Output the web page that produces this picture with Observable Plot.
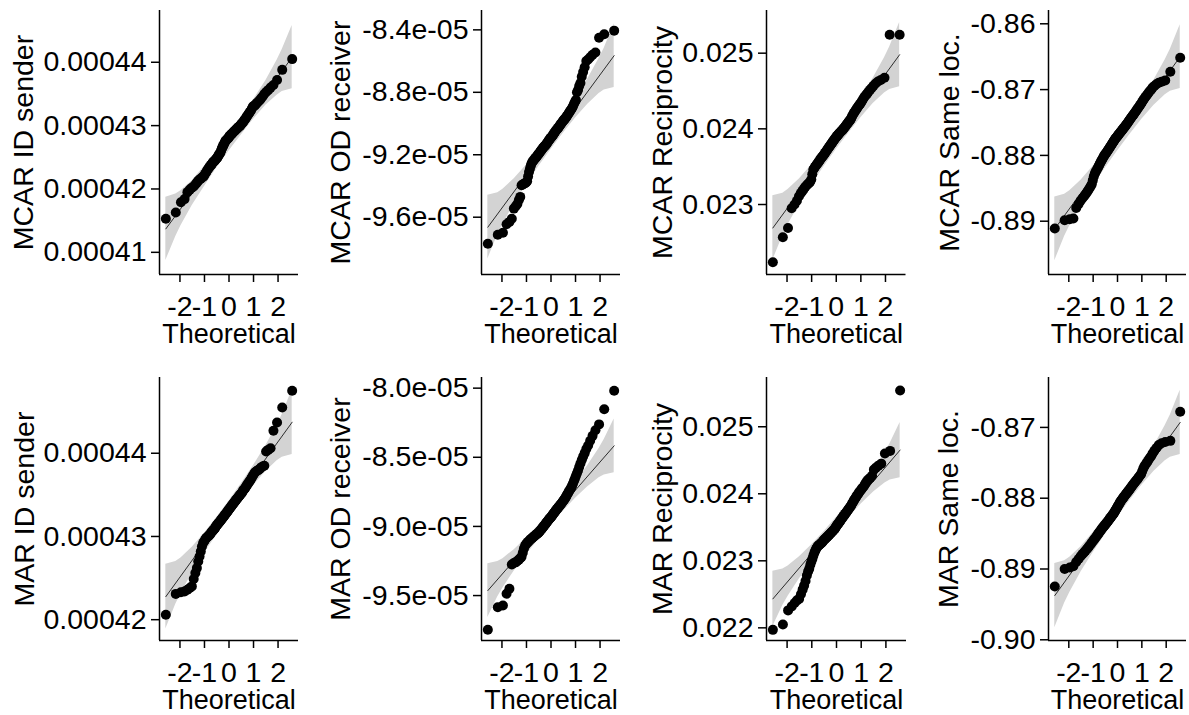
<!DOCTYPE html>
<html>
<head>
<meta charset="utf-8">
<script src="https://cdn.jsdelivr.net/npm/d3@7"></script>
<script src="https://cdn.jsdelivr.net/npm/@observablehq/plot@0.6"></script>
<style>
html,body{margin:0;padding:0;background:#fff;}
#chart{position:relative;width:1189px;height:715px;overflow:hidden;background:#fff;}
#chart svg{position:absolute;overflow:visible;}
</style>
</head>
<body>
<div id="chart"></div>
<script>
// Theoretical normal quantiles (n = 100)
const theoretical = [-2.5758,-2.1701,-1.9600,-1.8119,-1.6954,-1.5982,-1.5141,-1.4395,-1.3722,-1.3106,-1.2536,-1.2004,-1.1503,-1.1031,-1.0581,-1.0152,-0.9741,-0.9346,-0.8965,-0.8596,-0.8239,-0.7892,-0.7554,-0.7225,-0.6903,-0.6588,-0.6280,-0.5978,-0.5681,-0.5388,-0.5101,-0.4817,-0.4538,-0.4261,-0.3989,-0.3719,-0.3451,-0.3186,-0.2924,-0.2663,-0.2404,-0.2147,-0.1891,-0.1637,-0.1383,-0.1130,-0.0878,-0.0627,-0.0376,-0.0125,0.0125,0.0376,0.0627,0.0878,0.1130,0.1383,0.1637,0.1891,0.2147,0.2404,0.2663,0.2924,0.3186,0.3451,0.3719,0.3989,0.4261,0.4538,0.4817,0.5101,0.5388,0.5681,0.5978,0.6280,0.6588,0.6903,0.7225,0.7554,0.7892,0.8239,0.8596,0.8965,0.9346,0.9741,1.0152,1.0581,1.1031,1.1503,1.2004,1.2536,1.3106,1.3722,1.4395,1.5141,1.5982,1.6954,1.8119,1.9600,2.1701,2.5758];
const bandZ = [-2.5758,-2.1701,-1.96,-1.5,-1,-0.5,0,0.5,1,1.5,1.96,2.1701,2.5758];
const xTicks = [-2,-1,0,1,2];
const xTickLabels = ["-2","-1","0","1","2"];

// ---- MCAR ID sender ----
const mcarIdSender = [4.153e-4,4.163e-4,4.179e-4,4.184e-4,4.195e-4,4.199e-4,4.202e-4,4.204e-4,4.207e-4,4.210e-4,4.213e-4,4.215e-4,4.216e-4,4.218e-4,4.219e-4,4.221e-4,4.224e-4,4.226e-4,4.229e-4,4.231e-4,4.233e-4,4.235e-4,4.237e-4,4.238e-4,4.240e-4,4.242e-4,4.243e-4,4.244e-4,4.245e-4,4.247e-4,4.248e-4,4.249e-4,4.251e-4,4.253e-4,4.255e-4,4.256e-4,4.258e-4,4.261e-4,4.264e-4,4.266e-4,4.268e-4,4.270e-4,4.272e-4,4.274e-4,4.276e-4,4.277e-4,4.278e-4,4.279e-4,4.280e-4,4.281e-4,4.283e-4,4.284e-4,4.285e-4,4.286e-4,4.287e-4,4.288e-4,4.289e-4,4.290e-4,4.291e-4,4.292e-4,4.293e-4,4.294e-4,4.295e-4,4.296e-4,4.297e-4,4.298e-4,4.299e-4,4.300e-4,4.301e-4,4.303e-4,4.304e-4,4.305e-4,4.307e-4,4.309e-4,4.310e-4,4.312e-4,4.314e-4,4.316e-4,4.318e-4,4.320e-4,4.322e-4,4.324e-4,4.327e-4,4.330e-4,4.331e-4,4.332e-4,4.334e-4,4.336e-4,4.338e-4,4.340e-4,4.343e-4,4.346e-4,4.350e-4,4.353e-4,4.356e-4,4.360e-4,4.364e-4,4.372e-4,4.388e-4,4.405e-4];
const mcarIdSenderLine = [4.137e-4,4.408e-4];
const mcarIdSenderLo = [4.087e-4,4.125e-4,4.142e-4,4.174e-4,4.204e-4,4.233e-4,4.260e-4,4.285e-4,4.310e-4,4.332e-4,4.348e-4,4.354e-4,4.358e-4];
const mcarIdSenderHi = [4.187e-4,4.192e-4,4.197e-4,4.213e-4,4.236e-4,4.260e-4,4.285e-4,4.312e-4,4.341e-4,4.371e-4,4.403e-4,4.420e-4,4.458e-4];
const mcarIdSenderTicks = [0.00041,0.00042,0.00043,0.00044];
const mcarIdSenderTickLabels = ["0.00041","0.00042","0.00043","0.00044"];

// ---- MCAR OD receiver ----
const mcarOdReceiver = [-9.770e-5,-9.712e-5,-9.700e-5,-9.645e-5,-9.630e-5,-9.610e-5,-9.545e-5,-9.530e-5,-9.515e-5,-9.490e-5,-9.470e-5,-9.395e-5,-9.390e-5,-9.386e-5,-9.382e-5,-9.378e-5,-9.370e-5,-9.340e-5,-9.310e-5,-9.290e-5,-9.270e-5,-9.255e-5,-9.245e-5,-9.238e-5,-9.232e-5,-9.226e-5,-9.220e-5,-9.214e-5,-9.208e-5,-9.202e-5,-9.196e-5,-9.190e-5,-9.184e-5,-9.178e-5,-9.172e-5,-9.166e-5,-9.160e-5,-9.155e-5,-9.150e-5,-9.146e-5,-9.142e-5,-9.138e-5,-9.132e-5,-9.126e-5,-9.120e-5,-9.114e-5,-9.108e-5,-9.102e-5,-9.097e-5,-9.092e-5,-9.088e-5,-9.083e-5,-9.078e-5,-9.072e-5,-9.066e-5,-9.060e-5,-9.054e-5,-9.048e-5,-9.042e-5,-9.038e-5,-9.034e-5,-9.028e-5,-9.022e-5,-9.016e-5,-9.010e-5,-9.004e-5,-8.998e-5,-8.992e-5,-8.986e-5,-8.980e-5,-8.975e-5,-8.970e-5,-8.964e-5,-8.957e-5,-8.950e-5,-8.942e-5,-8.934e-5,-8.926e-5,-8.918e-5,-8.910e-5,-8.900e-5,-8.890e-5,-8.875e-5,-8.862e-5,-8.850e-5,-8.800e-5,-8.785e-5,-8.760e-5,-8.740e-5,-8.700e-5,-8.670e-5,-8.640e-5,-8.600e-5,-8.590e-5,-8.575e-5,-8.560e-5,-8.545e-5,-8.450e-5,-8.428e-5,-8.405e-5];
const mcarOdReceiverLine = [-9.664e-5,-8.565e-5];
const mcarOdReceiverLo = [-9.868e-5,-9.711e-5,-9.645e-5,-9.515e-5,-9.391e-5,-9.276e-5,-9.167e-5,-9.063e-5,-8.964e-5,-8.876e-5,-8.808e-5,-8.786e-5,-8.769e-5];
const mcarOdReceiverHi = [-9.460e-5,-9.443e-5,-9.421e-5,-9.353e-5,-9.265e-5,-9.166e-5,-9.062e-5,-8.953e-5,-8.838e-5,-8.714e-5,-8.584e-5,-8.518e-5,-8.361e-5];
const mcarOdReceiverTicks = [-9.6e-5,-9.2e-5,-8.8e-5,-8.4e-5];
const mcarOdReceiverTickLabels = ["-9.6e-05","-9.2e-05","-8.8e-05","-8.4e-05"];

// ---- MCAR Reciprocity ----
const mcarReciprocity = [0.022237,0.022568,0.022690,0.022950,0.023000,0.023050,0.023110,0.023150,0.023180,0.023210,0.023235,0.023255,0.023270,0.023285,0.023300,0.023330,0.023400,0.023460,0.023480,0.023500,0.023515,0.023530,0.023545,0.023560,0.023575,0.023590,0.023605,0.023620,0.023630,0.023642,0.023655,0.023668,0.023682,0.023695,0.023708,0.023720,0.023733,0.023746,0.023758,0.023770,0.023782,0.023795,0.023806,0.023818,0.023830,0.023842,0.023853,0.023865,0.023876,0.023887,0.023897,0.023907,0.023917,0.023927,0.023937,0.023946,0.023955,0.023964,0.023972,0.023980,0.023990,0.024000,0.024010,0.024022,0.024034,0.024046,0.024058,0.024070,0.024082,0.024094,0.024105,0.024118,0.024135,0.024155,0.024175,0.024195,0.024212,0.024228,0.024245,0.024262,0.024280,0.024298,0.024315,0.024330,0.024350,0.024375,0.024400,0.024425,0.024445,0.024465,0.024490,0.024515,0.024540,0.024570,0.024600,0.024625,0.024645,0.024675,0.025243,0.025243];
const mcarReciprocityLine = [0.02269,0.02498];
const mcarReciprocityLo = [0.022265,0.022590,0.022731,0.023000,0.023259,0.023499,0.023726,0.023943,0.024148,0.024334,0.024473,0.024520,0.024555];
const mcarReciprocityHi = [0.023115,0.023150,0.023197,0.023336,0.023523,0.023727,0.023944,0.024171,0.024412,0.024670,0.024939,0.025080,0.025405];
const mcarReciprocityTicks = [0.023,0.024,0.025];
const mcarReciprocityTickLabels = ["0.023","0.024","0.025"];

// ---- MCAR Same loc. ----
const mcarSameLoc = [-0.89110,-0.88985,-0.88970,-0.88960,-0.88800,-0.88740,-0.88690,-0.88650,-0.88620,-0.88590,-0.88560,-0.88530,-0.88500,-0.88470,-0.88440,-0.88380,-0.88320,-0.88280,-0.88250,-0.88225,-0.88200,-0.88175,-0.88150,-0.88125,-0.88100,-0.88080,-0.88060,-0.88040,-0.88020,-0.88000,-0.87985,-0.87970,-0.87955,-0.87940,-0.87925,-0.87910,-0.87895,-0.87880,-0.87865,-0.87850,-0.87835,-0.87820,-0.87805,-0.87790,-0.87775,-0.87760,-0.87748,-0.87736,-0.87725,-0.87712,-0.87700,-0.87688,-0.87676,-0.87664,-0.87652,-0.87640,-0.87628,-0.87616,-0.87604,-0.87592,-0.87580,-0.87568,-0.87555,-0.87542,-0.87528,-0.87515,-0.87500,-0.87485,-0.87470,-0.87455,-0.87440,-0.87425,-0.87410,-0.87395,-0.87380,-0.87362,-0.87345,-0.87328,-0.87310,-0.87292,-0.87272,-0.87252,-0.87232,-0.87210,-0.87185,-0.87160,-0.87135,-0.87110,-0.87085,-0.87058,-0.87030,-0.87005,-0.86970,-0.86945,-0.86920,-0.86895,-0.86880,-0.86860,-0.86730,-0.86515];
const mcarSameLocLine = [-0.89116,-0.86500];
const mcarSameLocLo = [-0.89601,-0.89229,-0.89069,-0.88762,-0.88466,-0.88193,-0.87933,-0.87685,-0.87450,-0.87238,-0.87079,-0.87025,-0.86985];
const mcarSameLocHi = [-0.88631,-0.88591,-0.88537,-0.88378,-0.88166,-0.87931,-0.87683,-0.87423,-0.87150,-0.86854,-0.86547,-0.86387,-0.86015];
const mcarSameLocTicks = [-0.89,-0.88,-0.87,-0.86];
const mcarSameLocTickLabels = ["-0.89","-0.88","-0.87","-0.86"];

// ---- MAR ID sender ----
const marIdSender = [4.206e-4,4.231e-4,4.233e-4,4.234e-4,4.236e-4,4.238e-4,4.240e-4,4.249e-4,4.256e-4,4.262e-4,4.270e-4,4.276e-4,4.282e-4,4.288e-4,4.292e-4,4.294e-4,4.296e-4,4.298e-4,4.299e-4,4.300e-4,4.301e-4,4.302e-4,4.303e-4,4.305e-4,4.306e-4,4.307e-4,4.308e-4,4.309e-4,4.310e-4,4.312e-4,4.313e-4,4.314e-4,4.315e-4,4.316e-4,4.317e-4,4.318e-4,4.319e-4,4.320e-4,4.321e-4,4.322e-4,4.323e-4,4.324e-4,4.325e-4,4.326e-4,4.327e-4,4.328e-4,4.329e-4,4.330e-4,4.331e-4,4.332e-4,4.333e-4,4.334e-4,4.335e-4,4.336e-4,4.337e-4,4.338e-4,4.339e-4,4.340e-4,4.341e-4,4.342e-4,4.343e-4,4.344e-4,4.345e-4,4.346e-4,4.347e-4,4.348e-4,4.349e-4,4.350e-4,4.351e-4,4.352e-4,4.353e-4,4.355e-4,4.356e-4,4.357e-4,4.358e-4,4.360e-4,4.361e-4,4.363e-4,4.364e-4,4.366e-4,4.367e-4,4.369e-4,4.371e-4,4.373e-4,4.375e-4,4.377e-4,4.378e-4,4.379e-4,4.380e-4,4.381e-4,4.383e-4,4.384e-4,4.385e-4,4.402e-4,4.404e-4,4.406e-4,4.427e-4,4.437e-4,4.455e-4,4.475e-4];
const marIdSenderLine = [4.2277e-4,4.4373e-4];
const marIdSenderLo = [4.1888e-4,4.2186e-4,4.2315e-4,4.2561e-4,4.2798e-4,4.3017e-4,4.3225e-4,4.3423e-4,4.3612e-4,4.3781e-4,4.3909e-4,4.3952e-4,4.3984e-4];
const marIdSenderHi = [4.2666e-4,4.2698e-4,4.2741e-4,4.2869e-4,4.3038e-4,4.3227e-4,4.3425e-4,4.3633e-4,4.3852e-4,4.4089e-4,4.4335e-4,4.4464e-4,4.4762e-4];
const marIdSenderTicks = [0.00042,0.00043,0.00044];
const marIdSenderTickLabels = ["0.00042","0.00043","0.00044"];

// ---- MAR OD receiver ----
const marOdReceiver = [-9.747e-5,-9.584e-5,-9.572e-5,-9.487e-5,-9.451e-5,-9.275e-5,-9.265e-5,-9.260e-5,-9.250e-5,-9.240e-5,-9.230e-5,-9.220e-5,-9.190e-5,-9.160e-5,-9.140e-5,-9.128e-5,-9.120e-5,-9.112e-5,-9.105e-5,-9.098e-5,-9.092e-5,-9.087e-5,-9.082e-5,-9.077e-5,-9.072e-5,-9.067e-5,-9.062e-5,-9.058e-5,-9.054e-5,-9.050e-5,-9.045e-5,-9.040e-5,-9.034e-5,-9.028e-5,-9.022e-5,-9.016e-5,-9.010e-5,-9.004e-5,-8.998e-5,-8.992e-5,-8.986e-5,-8.980e-5,-8.974e-5,-8.968e-5,-8.962e-5,-8.956e-5,-8.950e-5,-8.945e-5,-8.940e-5,-8.935e-5,-8.930e-5,-8.924e-5,-8.918e-5,-8.911e-5,-8.905e-5,-8.899e-5,-8.893e-5,-8.887e-5,-8.881e-5,-8.875e-5,-8.869e-5,-8.864e-5,-8.858e-5,-8.852e-5,-8.846e-5,-8.840e-5,-8.834e-5,-8.827e-5,-8.820e-5,-8.813e-5,-8.806e-5,-8.799e-5,-8.790e-5,-8.780e-5,-8.770e-5,-8.760e-5,-8.750e-5,-8.740e-5,-8.730e-5,-8.720e-5,-8.705e-5,-8.690e-5,-8.672e-5,-8.655e-5,-8.635e-5,-8.615e-5,-8.595e-5,-8.570e-5,-8.545e-5,-8.520e-5,-8.495e-5,-8.470e-5,-8.440e-5,-8.415e-5,-8.380e-5,-8.345e-5,-8.305e-5,-8.262e-5,-8.152e-5,-8.019e-5];
const marOdReceiverLine = [-9.464e-5,-8.417e-5];
const marOdReceiverLo = [-9.658e-5,-9.509e-5,-9.445e-5,-9.322e-5,-9.204e-5,-9.094e-5,-8.991e-5,-8.891e-5,-8.797e-5,-8.713e-5,-8.648e-5,-8.628e-5,-8.611e-5];
const marOdReceiverHi = [-9.270e-5,-9.253e-5,-9.233e-5,-9.168e-5,-9.084e-5,-8.990e-5,-8.891e-5,-8.787e-5,-8.677e-5,-8.559e-5,-8.436e-5,-8.372e-5,-8.223e-5];
const marOdReceiverTicks = [-9.5e-5,-9.0e-5,-8.5e-5,-8.0e-5];
const marOdReceiverTickLabels = ["-9.5e-05","-9.0e-05","-8.5e-05","-8.0e-05"];

// ---- MAR Reciprocity ----
const marReciprocity = [0.02197,0.02205,0.02226,0.02232,0.02237,0.02241,0.02243,0.02250,0.02257,0.02263,0.02270,0.02278,0.02284,0.02288,0.02294,0.02299,0.02303,0.02308,0.02312,0.02315,0.02318,0.02320,0.02322,0.02323,0.02324,0.02325,0.02326,0.02327,0.02328,0.02330,0.02331,0.02332,0.02333,0.02334,0.02335,0.02336,0.02337,0.02338,0.02339,0.02340,0.02341,0.02342,0.02343,0.02344,0.02345,0.02346,0.02347,0.02348,0.02350,0.02351,0.02353,0.02354,0.02355,0.02356,0.02358,0.02359,0.02360,0.02362,0.02363,0.02364,0.02366,0.02367,0.02368,0.02370,0.02371,0.02372,0.02374,0.02375,0.02377,0.02378,0.02380,0.02381,0.02383,0.02385,0.02387,0.02389,0.02391,0.02393,0.02395,0.02397,0.02399,0.02401,0.02403,0.02405,0.02407,0.02409,0.02411,0.02414,0.02417,0.02420,0.02422,0.02424,0.02427,0.02436,0.02439,0.02442,0.02445,0.02460,0.02464,0.02554];
const marReciprocityLine = [0.022432,0.024653];
const marReciprocityLo = [0.022020,0.022336,0.022472,0.022733,0.022983,0.023216,0.023437,0.023647,0.023846,0.024026,0.024161,0.024207,0.024241];
const marReciprocityHi = [0.022844,0.022878,0.022924,0.023059,0.023239,0.023438,0.023649,0.023869,0.024102,0.024352,0.024613,0.024749,0.025065];
const marReciprocityTicks = [0.022,0.023,0.024,0.025];
const marReciprocityTickLabels = ["0.022","0.023","0.024","0.025"];

// ---- MAR Same loc. ----
const marSameLoc = [-0.89248,-0.89000,-0.88978,-0.88960,-0.88900,-0.88860,-0.88820,-0.88790,-0.88765,-0.88740,-0.88718,-0.88695,-0.88672,-0.88650,-0.88628,-0.88608,-0.88590,-0.88572,-0.88555,-0.88538,-0.88520,-0.88503,-0.88486,-0.88470,-0.88455,-0.88440,-0.88425,-0.88412,-0.88400,-0.88388,-0.88376,-0.88364,-0.88352,-0.88340,-0.88328,-0.88315,-0.88302,-0.88290,-0.88278,-0.88266,-0.88254,-0.88242,-0.88230,-0.88218,-0.88205,-0.88190,-0.88175,-0.88160,-0.88145,-0.88130,-0.88115,-0.88100,-0.88085,-0.88070,-0.88055,-0.88040,-0.88028,-0.88016,-0.88004,-0.87992,-0.87980,-0.87968,-0.87956,-0.87944,-0.87932,-0.87920,-0.87908,-0.87896,-0.87884,-0.87870,-0.87856,-0.87842,-0.87828,-0.87814,-0.87800,-0.87786,-0.87772,-0.87758,-0.87744,-0.87730,-0.87712,-0.87694,-0.87676,-0.87658,-0.87620,-0.87580,-0.87550,-0.87525,-0.87500,-0.87470,-0.87440,-0.87410,-0.87370,-0.87330,-0.87290,-0.87250,-0.87225,-0.87205,-0.87190,-0.86780];
const marSameLocLine = [-0.89375,-0.86929];
const marSameLocLo = [-0.89829,-0.89481,-0.89332,-0.89043,-0.88768,-0.88511,-0.88269,-0.88037,-0.87818,-0.87619,-0.87470,-0.87421,-0.87383];
const marSameLocHi = [-0.88921,-0.88883,-0.88834,-0.88685,-0.88486,-0.88267,-0.88035,-0.87793,-0.87536,-0.87261,-0.86972,-0.86823,-0.86475];
const marSameLocTicks = [-0.90,-0.89,-0.88,-0.87];
const marSameLocTickLabels = ["-0.90","-0.89","-0.88","-0.87"];

// ---- layout / options ----
const FONT = '"Liberation Sans", Arial, Helvetica, sans-serif';
const FS_TICK = 28.5;
const FS_YTITLE = 28.5;
const FS_XTITLE = 27;
const xDomain = [-2.834, 2.834];
const panels = [
  {title:"MCAR ID sender", s:mcarIdSender, line:mcarIdSenderLine, lo:mcarIdSenderLo, hi:mcarIdSenderHi, ticks:mcarIdSenderTicks, labels:mcarIdSenderTickLabels, domain:[4.065e-4,4.4817e-4], frame:[159,298,10,274], tOff:136},
  {title:"MCAR OD receiver", s:mcarOdReceiver, line:mcarOdReceiverLine, lo:mcarOdReceiverLo, hi:mcarOdReceiverHi, ticks:mcarOdReceiverTicks, labels:mcarOdReceiverTickLabels, domain:[-9.967e-5,-8.276e-5], frame:[481,620,10,274], tOff:141},
  {title:"MCAR Reciprocity", s:mcarReciprocity, line:mcarReciprocityLine, lo:mcarReciprocityLo, hi:mcarReciprocityHi, ticks:mcarReciprocityTicks, labels:mcarReciprocityTickLabels, domain:[0.022075,0.025564], frame:[766,905.5,10,274], tOff:104},
  {title:"MCAR Same loc.", s:mcarSameLoc, line:mcarSameLocLine, lo:mcarSameLocLo, hi:mcarSameLocHi, ticks:mcarSameLocTicks, labels:mcarSameLocTickLabels, domain:[-0.8981,-0.85798], frame:[1048,1186,10,274], tOff:99},
  {title:"MAR ID sender", s:marIdSender, line:marIdSenderLine, lo:marIdSenderLo, hi:marIdSenderHi, ticks:marIdSenderTicks, labels:marIdSenderTickLabels, domain:[4.175e-4,4.491e-4], frame:[159,298,377,640], tOff:135},
  {title:"MAR OD receiver", s:marOdReceiver, line:marOdReceiverLine, lo:marOdReceiverLo, hi:marOdReceiverHi, ticks:marOdReceiverTicks, labels:marOdReceiverTickLabels, domain:[-9.825e-5,-7.923e-5], frame:[481,620,377,640], tOff:141},
  {title:"MAR Reciprocity", s:marReciprocity, line:marReciprocityLine, lo:marReciprocityLo, hi:marReciprocityHi, ticks:marReciprocityTicks, labels:marReciprocityTickLabels, domain:[0.021811,0.025735], frame:[766,906,377,640], tOff:104},
  {title:"MAR Same loc.", s:marSameLoc, line:marSameLocLine, lo:marSameLocLo, hi:marSameLocHi, ticks:marSameLocTicks, labels:marSameLocTickLabels, domain:[-0.9001,-0.86295], frame:[1048,1186,377,640], tOff:100}
];

const chart = document.getElementById("chart");
const xLabelOf = new Map(xTicks.map((t, i) => [t, xTickLabels[i]]));

for (const p of panels) {
  const [L, R, T, B] = p.frame;
  const mL = 170, mR = 12, mT = 12, mB = 74;
  const pts = theoretical.map((z, i) => ({z, v: p.s[i]}));
  const band = bandZ.map((z, i) => ({z, lo: p.lo[i], hi: p.hi[i]}));
  const qqLine = [{z: theoretical[0], v: p.line[0]}, {z: theoretical[theoretical.length - 1], v: p.line[1]}];
  const yLabelOf = new Map(p.ticks.map((t, i) => [t, p.labels[i]]));
  const svg = Plot.plot({
    width: mL + (R - L) + mR,
    height: mT + (B - T) + mB,
    marginLeft: mL, marginRight: mR, marginTop: mT, marginBottom: mB,
    x: {domain: xDomain},
    y: {domain: p.domain},
    style: {fontFamily: FONT, fontSize: FS_TICK + "px", color: "black", background: "none", overflow: "visible"},
    marks: [
      Plot.areaY(band, {x: "z", y1: "lo", y2: "hi", fill: "#d3d3d3"}),
      Plot.line(qqLine, {x: "z", y: "v", stroke: "black", strokeWidth: 0.8}),
      Plot.dot(pts, {x: "z", y: "v", r: 5, fill: "black", stroke: "none"}),
      Plot.ruleX([xDomain[0]], {stroke: "black", strokeWidth: 1.5}),
      Plot.ruleY([p.domain[0]], {stroke: "black", strokeWidth: 1.5}),
      Plot.axisX({ticks: xTicks, tickFormat: d => xLabelOf.get(d), tickSize: 8, tickPadding: 13, strokeWidth: 1.5, fontSize: FS_TICK, label: null, color: "black"}),
      Plot.axisY({ticks: p.ticks, tickFormat: d => yLabelOf.get(d), tickSize: 8, tickPadding: 5, strokeWidth: 1.5, fontSize: FS_TICK, label: null, color: "black"}),
      Plot.text([p.title], {text: d => d, frameAnchor: "left", dx: -p.tOff, rotate: -90, textAnchor: "middle", lineAnchor: "middle", fontSize: FS_YTITLE, fill: "black"}),
      Plot.text(["Theoretical"], {text: d => d, frameAnchor: "bottom", dy: 60, textAnchor: "middle", lineAnchor: "middle", fontSize: FS_XTITLE, fill: "black"})
    ]
  });
  svg.style.left = (L - mL) + "px";
  svg.style.top = (T - mT) + "px";
  chart.appendChild(svg);
}
</script>
</body>
</html>
